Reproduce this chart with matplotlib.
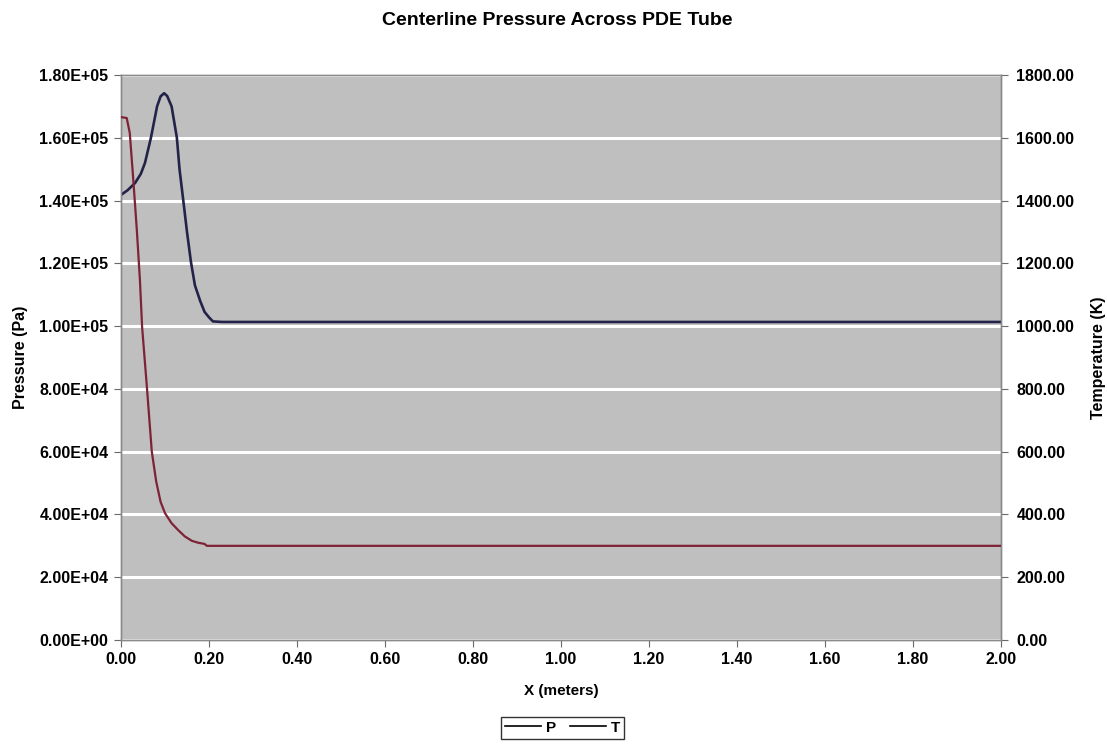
import matplotlib
matplotlib.use("Agg")
import matplotlib.pyplot as plt
from matplotlib.ticker import FuncFormatter, MultipleLocator

# Centerline pressure (Pa) along the tube, x in meters
x_p = [0.000, 0.015, 0.032, 0.045, 0.0545, 0.068, 0.082, 0.090, 0.098,
       0.105, 0.115, 0.127, 0.133, 0.142, 0.150, 0.159, 0.168, 0.180,
       0.190, 0.200, 0.209, 0.230, 2.000]
pressure = [141.8e3, 143.3e3, 145.6e3, 148.5e3, 152.0e3, 160.0e3, 170.0e3,
            173.2e3, 174.2e3, 173.3e3, 170.0e3, 160.0e3, 150.0e3, 139.5e3,
            130.0e3, 120.4e3, 113.0e3, 108.0e3, 104.5e3, 102.8e3, 101.5e3,
            101.325e3, 101.325e3]

# Centerline temperature (K) along the tube
x_t = [0.000, 0.013, 0.020, 0.028, 0.036, 0.043, 0.048, 0.059, 0.070,
       0.080, 0.090, 0.100, 0.115, 0.130, 0.145, 0.161, 0.175, 0.190,
       0.195, 2.000]
temperature = [1666, 1663, 1615, 1465, 1306, 1147, 997, 803, 600,
               505, 440, 404, 372, 350, 330, 316, 310, 306, 300, 300]

p_ticks = [0, 2e4, 4e4, 6e4, 8e4, 1e5, 1.2e5, 1.4e5, 1.6e5, 1.8e5]
t_ticks = [0, 200, 400, 600, 800, 1000, 1200, 1400, 1600, 1800]

FONT = "Liberation Sans"
P_COLOR = "#23234a"
T_COLOR = "#7e2236"

fig = plt.figure(figsize=(11.07, 7.48), dpi=100)
fig.patch.set_facecolor("white")
ax = fig.add_axes([0.1093, 0.1444, 0.7950, 0.7553])
ax.set_facecolor("#bfbfbf")

ax.set_xlim(0, 2.0)
ax.set_ylim(0, 1.8e5)
ax.set_yticks(p_ticks)
ax.xaxis.set_major_locator(MultipleLocator(0.2))
ax.xaxis.set_major_formatter(FuncFormatter(lambda v, _: f"{v:.2f}"))
ax.yaxis.set_major_formatter(FuncFormatter(lambda v, _: f"{v:.2E}"))
ax.grid(axis="y", color="white", linewidth=2.2)
ax.set_axisbelow(True)

lp, = ax.plot(x_p, pressure, color=P_COLOR, linewidth=1.9, label="P", zorder=3)

ax2 = ax.twinx()
ax2.set_ylim(0, 1800)
ax2.set_yticks(t_ticks)
ax2.yaxis.set_major_formatter(FuncFormatter(lambda v, _: f"{v:.2f}"))
lt, = ax2.plot(x_t, temperature, color=T_COLOR, linewidth=1.6, label="T", zorder=3)

for a in (ax, ax2):
    for s in a.spines.values():
        s.set_color("#8a8a8a")
        s.set_linewidth(1.0)
    a.tick_params(length=5, width=0.8, color="#6a6a6a", labelsize=11.5,
                  pad=4)
    for lab in a.get_xticklabels() + a.get_yticklabels():
        lab.set_fontfamily(FONT)
        lab.set_fontweight("bold")
ax2.tick_params(pad=6)

ax.set_xlabel("X (meters)", fontsize=11, fontweight="bold", family=FONT,
              labelpad=12)
ax.set_ylabel("Pressure (Pa)", fontsize=11.5, fontweight="bold", family=FONT,
              labelpad=8)
ax2.set_ylabel("Temperature (K)", fontsize=11.5, fontweight="bold", family=FONT,
               labelpad=12)
fig.text(0.503, 0.972, "Centerline Pressure Across PDE Tube", ha="center",
         va="center", fontsize=14, fontweight="bold", family=FONT)

leg = fig.legend(handles=[lp, lt], labels=["P", "T"], loc="center",
                 bbox_to_anchor=(0.508, 0.027), ncol=2, frameon=True,
                 fancybox=False, edgecolor="black", handlelength=2.4,
                 handletextpad=0.3, columnspacing=0.9, borderpad=0.25,
                 prop={"family": FONT, "weight": "bold", "size": 11})
for h in leg.legend_handles:
    h.set_color("black")
    h.set_linewidth(1.2)

fig.savefig("out.png", dpi=100)
